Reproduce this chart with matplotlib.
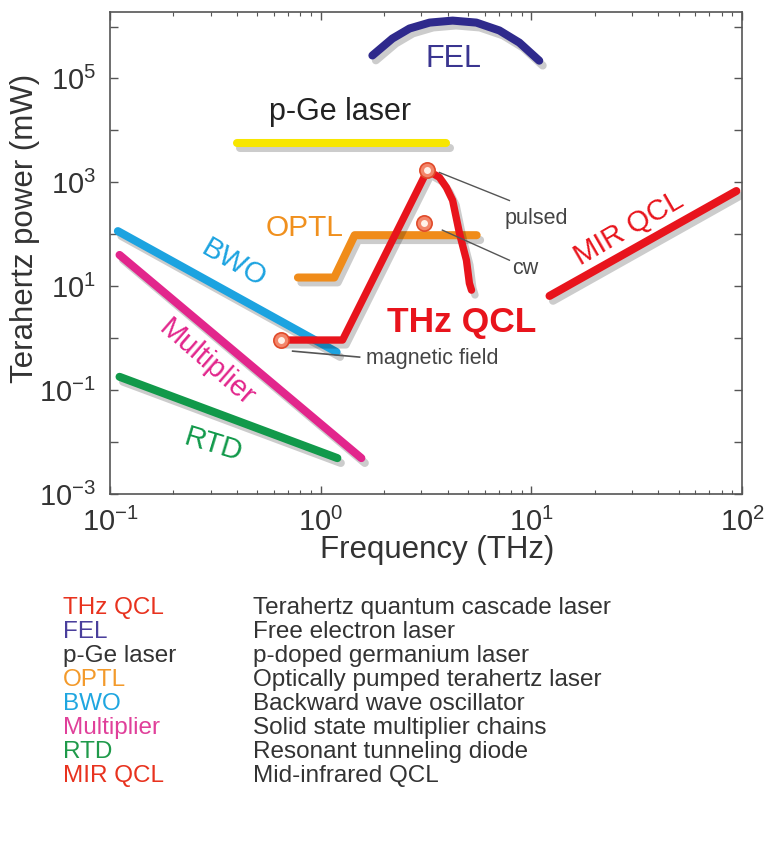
import matplotlib
matplotlib.use('Agg')
import matplotlib.pyplot as plt
import matplotlib.patheffects as pe
from matplotlib.ticker import LogLocator, NullFormatter

plt.rcParams['font.family'] = ['Liberation Sans', 'DejaVu Sans']
plt.rcParams['mathtext.fontset'] = 'custom'
plt.rcParams['mathtext.rm'] = 'Liberation Sans'
plt.rcParams['mathtext.it'] = 'Liberation Sans:italic'
plt.rcParams['mathtext.bf'] = 'Liberation Sans:bold'

# --- data (frequency in THz, power in mW) ---
fel_f = [1.76, 2.19, 2.64, 3.29, 4.23, 5.48, 7.05, 8.77, 10.9]
fel_p = [2.77e5, 5.87e5, 9.16e5, 1.19e6, 1.3e6, 1.19e6, 8.4e5, 4.9e5, 2.2e5]

pge_f = [0.40, 3.95]
pge_p = [5600, 5600]

optl_f = [0.78, 1.16, 1.45, 5.5]
optl_p = [14.7, 14.7, 96, 96]

bwo_f = [0.109, 1.19]
bwo_p = [115, 0.54]

mult_f = [0.111, 1.56]
mult_p = [40, 0.0049]

rtd_f = [0.111, 1.2]
rtd_p = [0.18, 0.0049]

mir_f = [12.2, 94]
mir_p = [6.5, 680]

qcl_f = [0.65, 1.27, 3.21, 3.66, 3.95, 4.23, 4.56, 4.92, 5.08, 5.2]
qcl_p = [0.92, 0.92, 1700, 1250, 800, 450, 104, 31.6, 11.4, 8.4]

# marked points: pulsed, cw, magnetic field
mark_f = [3.21, 3.11, 0.65]
mark_p = [1700, 165, 0.92]

tech_names = ['THz QCL', 'FEL', 'p-Ge laser', 'OPTL', 'BWO', 'Multiplier', 'RTD', 'MIR QCL']
tech_desc = ['Terahertz quantum cascade laser', 'Free electron laser',
             'p-doped germanium laser', 'Optically pumped terahertz laser',
             'Backward wave oscillator', 'Solid state multiplier chains',
             'Resonant tunneling diode', 'Mid-infrared QCL']
tech_colors = ['#e8321e', '#4a3f9c', '#333333', '#f39a2b', '#1fa6e0', '#e0409a', '#1f9a4a', '#e8321e']

c_red = '#e8141c'

fig = plt.figure(figsize=(7.66, 8.48), dpi=100)
ax = fig.add_axes([0.1436, 0.4175, 0.8251, 0.5683])

shadow = [pe.SimpleLineShadow(offset=(2.5, -3.5), shadow_color='k', alpha=0.2), pe.Normal()]
lw = 5.8

def draw(f, p, color, w=lw):
    ax.plot(f, p, color=color, lw=w, solid_capstyle='round', solid_joinstyle='round',
            path_effects=shadow)

draw(fel_f, fel_p, '#2f2a8c')
draw(pge_f, pge_p, '#f7e600')
draw(bwo_f, bwo_p, '#1ca3e0')
draw(mult_f, mult_p, '#e2268c')
draw(rtd_f, rtd_p, '#11994a')
draw(optl_f, optl_p, '#f08c1a')
draw(mir_f, mir_p, c_red)
draw(qcl_f, qcl_p, c_red, 5.3)

# annotation leader lines
ax.plot([3.66, 7.87], [10**3.19, 10**2.65], color='#555555', lw=1.0)
ax.plot([3.78, 7.87], [10**2.08, 10**1.5], color='#555555', lw=1.0)
ax.plot([0.736, 1.53], [10**-0.25, 10**-0.365], color='#555555', lw=1.2)

# glossy markers
ax.plot(mark_f, mark_p, 'o', ms=11, mfc='#f3866a', mec='#e04a2a', mew=1.2, zorder=5)
ax.plot(mark_f, mark_p, 'o', ms=5, mfc='#fff1e8', mec='none', zorder=6)

# in-plot labels
ax.text(4.27, 10**5.38, 'FEL', color='#3a3590', fontsize=22, ha='center', va='center')
ax.text(1.23, 10**4.35, 'p-Ge laser', color='#222222', fontsize=22, ha='center', va='center')
ax.text(0.84, 10**2.13, 'OPTL', color='#f0901e', fontsize=21.5, ha='center', va='center')
ax.text(0.387, 10**1.44, 'BWO', color='#1ca3e0', fontsize=21, ha='center', va='center', rotation=-30)
ax.text(0.288, 10**-0.48, 'Multiplier', color='#e2268c', fontsize=21, ha='center', va='center', rotation=-41)
ax.text(0.308, 10**-2.06, 'RTD', color='#11994a', fontsize=21, ha='center', va='center', rotation=-17)
ax.text(29, 10**2.12, 'MIR QCL', color=c_red, fontsize=21, ha='center', va='center', rotation=30)
ax.text(4.65, 10**0.31, 'THz QCL', color=c_red, fontsize=25.5, fontweight='bold', ha='center', va='center')
ax.text(7.45, 10**2.31, 'pulsed', color='#444444', fontsize=15.5, ha='left', va='center')
ax.text(8.1, 10**1.35, 'cw', color='#444444', fontsize=15.5, ha='left', va='center')
ax.text(1.65, 10**-0.385, 'magnetic field', color='#444444', fontsize=15.5, ha='left', va='center')

ax.set_xscale('log')
ax.set_yscale('log')
ax.set_xlim(0.1, 100)
ax.set_ylim(1e-3, 1.9e6)

yt = [10.0**k for k in range(-3, 7)]
ax.set_yticks(yt)
ax.set_yticklabels(['$10^{%d}$' % k if k % 2 == 1 else '' for k in range(-3, 7)])
ax.yaxis.set_minor_locator(LogLocator(subs=[]))
ax.set_xticks([0.1, 1, 10, 100])
ax.set_xticklabels(['$10^{-1}$', '$10^{0}$', '$10^{1}$', '$10^{2}$'])
ax.xaxis.set_minor_locator(LogLocator(subs=range(2, 10)))
ax.xaxis.set_minor_formatter(NullFormatter())

ax.tick_params(which='both', direction='in', top=True, right=True, colors='#555555',
               labelcolor='#333333')
ax.tick_params(which='major', length=6, width=1.0, labelsize=21)
ax.tick_params(axis='y', which='major', pad=10)
ax.tick_params(axis='x', which='major', pad=10)
ax.tick_params(which='minor', length=3, width=0.8)
for s in ax.spines.values():
    s.set_color('#555555')
    s.set_linewidth(1.2)

ax.set_xlabel('Frequency (THz)', fontsize=22.5, color='#333333', va='center')
ax.set_ylabel('Terahertz power (mW)', fontsize=22.5, color='#333333', va='center')
ax.xaxis.set_label_coords(0.517, -0.116)
ax.yaxis.set_label_coords(-0.134, 0.552)

# legend table below the chart
for i in range(len(tech_names)):
    y = 1 - (608 + 24 * i) / 848
    fig.text(63 / 766, y, tech_names[i], color=tech_colors[i], fontsize=17.5, va='center')
    fig.text(253 / 766, y, tech_desc[i], color='#333333', fontsize=17.5, va='center')

fig.savefig('out.png', dpi=100, facecolor='white')
